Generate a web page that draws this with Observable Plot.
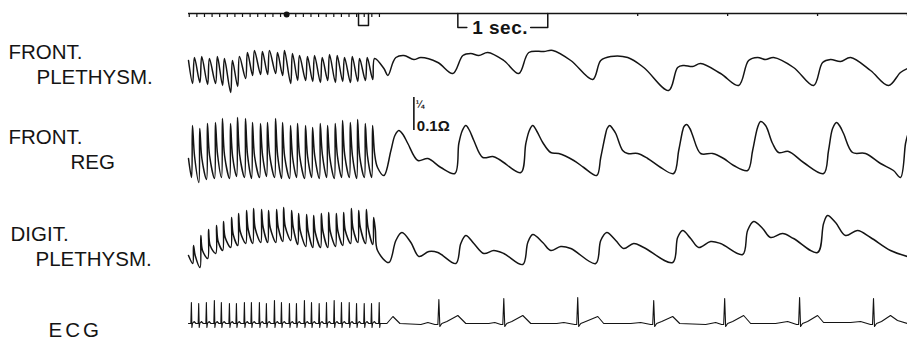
<!DOCTYPE html>
<html>
<head>
<meta charset="utf-8">
<script src="https://cdn.jsdelivr.net/npm/d3@7"></script>
<script src="https://cdn.jsdelivr.net/npm/@observablehq/plot@0.6"></script>
<style>
  html, body { margin: 0; padding: 0; background: #fff; }
  #chart svg { display: block; }
</style>
</head>
<body>
<div id="chart"></div>
<script>
// ---------- time axis (seconds; slow paper speed before the switch, fast after) ----------
const START = -26.1, SWITCH = -0.86, END = 5.0;
const slowSecondTicks = [-26,-25,-24,-23,-22,-21,-20,-19,-18,-17,-16,-15,-14,-13,-12,-11,-10,-9,-8,-7,-6,-5,-4,-3,-2,-1];
const fastSecondTicks = [2, 3, 4, 5];
const oneSecBracket = [0, 1];
const eventMarker = [-3.75, -2.44];
const timeDot = -13.2;

// R-wave times during the slow-speed section (s)
const beatTimes = [-25.72,-24.76,-23.75,-22.70,-21.78,-20.72,-19.80,-18.75,-17.83,-16.78,-15.86,-14.80,-13.88,-12.83,-11.91,-10.86,-9.93,-8.92,-7.96,-6.95,-5.99,-4.97,-4.01,-3.00,-2.04,-1.03];

// ---------- channel baselines (depth on the record) ----------
const channelZero = { fp: 80, reg: 170, dp: 255, ecg: 323 };
const timeLineDepth = 13;

// ---------- FRONT. PLETHYSM. ----------
const fpTrough = [-3,-2,-4,-3,-5,-12,-6,2,5,6,6,7,5,-3,0,0,-1,-2,0,-2,-1,-2,-1,0,1];
const fpPeak   = [23,24,22,24,22,20,24,28,30,29,30,28,30,27,25,24,25,23,26,25,23,24,22,23,22];
const fpSlow = [[-0.822,12],[-0.778,5],[-0.722,18],[-0.689,23],[-0.600,25],[-0.489,21],[-0.411,23],[-0.222,18],[-0.056,7],
  [0.056,25],[0.144,27],[0.233,25],[0.333,28],[0.511,20],[0.678,7],[0.789,28],[0.956,29],[1.056,30],[1.256,20],[1.500,1],
  [1.589,20],[1.700,24],[1.889,23],[2.067,13],[2.344,-10],[2.444,13],[2.511,15],[2.611,14],[2.700,17],[2.922,7],[3.122,-5],
  [3.233,20],[3.333,23],[3.422,21],[3.511,23],[3.733,13],[3.956,-5],[4.056,18],[4.144,21],[4.256,19],[4.367,23],[4.589,10],
  [4.789,-5],[4.922,8],[5.000,12]];

// ---------- FRONT. REG ----------
const regBottom = [-7,-12,-9,-8,-7,-8,-6,-7,-8,-7,-6,-7,-8,-8,-7,-8,-7,-8,-7,-8,-7,-7,-8,-7,-7];
const regTop    = [45,42,47,48,52,47,53,52,48,47,48,52,48,45,47,45,43,47,45,47,50,48,51,47,45];
const regNotch  = [14,12,15,16,15,14,16,15,14,15,16,15,14,13,15,14,15,16,14,15,16,15,14,15,16];
const regSlow = [[-1.25,3],[-0.822,-5],[-0.744,20],[-0.700,35],[-0.656,40],[-0.610,36],[-0.556,27],[-0.444,10],[-0.333,12],[-0.189,3],[-0.033,-3],
  [0.011,27],[0.050,40],[0.089,45],[0.130,40],[0.178,30],[0.278,13],[0.389,14],[0.478,10],[0.700,-2],[0.756,27],[0.795,40],[0.833,45],[0.880,39],[0.944,28],[1.033,18],
  [1.122,17],[1.289,10],[1.400,3],[1.544,-5],[1.589,13],[1.644,37],[1.660,42],[1.689,45],[1.720,42],[1.756,37],[1.833,20],[1.889,17],[2.000,17],
  [2.111,12],[2.256,3],[2.400,-3],[2.456,20],[2.500,40],[2.515,44],[2.544,46],[2.580,42],[2.611,35],[2.700,17],[2.833,17],[2.956,12],[3.067,5],
  [3.222,0],[3.278,20],[3.333,43],[3.367,49],[3.422,45],[3.500,27],[3.567,18],[3.678,19],[3.844,8],[4.067,-3],[4.122,20],
  [4.167,42],[4.211,48],[4.250,44],[4.289,37],[4.389,18],[4.533,17],[4.700,7],[4.844,0],[4.922,-7],[4.978,27],[5.000,35]];

// ---------- DIGIT. PLETHYSM. ----------
const dpBottom = [-8,-12,-3,2,5,8,10,12,12,13,13,13,14,15,11,9,8,8,8,9,10,12,13,12,11];
const dpTop    = [10,20,26,30,34,38,42,45,47,46,45,46,48,45,42,41,40,42,43,42,43,47,45,46,38];
const dpNotch  = [0,5,10,14,18,21,24,26,27,28,28,28,29,28,25,24,23,24,24,24,25,27,28,28,26];
const dpSlow = [[-1.25,5],[-0.767,-7],[-0.689,15],[-0.622,23],[-0.522,13],[-0.433,-1],[-0.322,4],[-0.222,3],[-0.022,-8],
  [0.033,12],[0.089,20],[0.178,12],[0.289,2],[0.400,5],[0.511,2],[0.722,-9],[0.778,13],[0.833,21],[0.944,13],[1.033,5],
  [1.144,9],[1.256,7],[1.533,-8],[1.589,15],[1.656,23],[1.756,15],[1.844,7],[1.956,12],[2.067,8],[2.389,-7],[2.444,18],
  [2.500,25],[2.589,17],[2.678,8],[2.811,14],[2.922,12],[3.167,1],[3.222,25],[3.289,34],[3.389,27],[3.478,18],[3.611,22],
  [3.733,17],[4.000,3],[4.067,32],[4.111,40],[4.200,33],[4.311,20],[4.444,25],[4.589,18],[4.811,5],[5.000,-1]];

// ---------- ECG ----------
const ecgR = [21,20,21,23,21,20,20,21,21,21,20,23,21,20,20,23,21,20,21,23,21,21,20,20,20,21];
const ecgS = -4, ecgT = 2;
const ecgSlow = [[-0.844,0],[-0.789,0],[-0.722,7],[-0.644,0],[-0.411,-1],[-0.333,1],[-0.256,-1],[-0.222,-1],[-0.211,24],[-0.200,-3],
  [-0.178,0],[-0.122,2],[0.000,8],[0.089,0],[0.344,0],[0.411,1],[0.478,-1],[0.500,-1],[0.511,25],[0.522,-3],[0.544,0],[0.600,2],
  [0.722,8],[0.811,0],[1.100,0],[1.178,1],[1.300,-1],[1.322,-1],[1.333,26],[1.344,-3],[1.367,0],[1.422,2],[1.556,7],[1.622,0],
  [1.922,0],[2.033,1],[2.144,-1],[2.167,-1],[2.178,23],[2.189,-3],[2.211,0],[2.267,2],[2.389,7],[2.467,0],[2.756,-1],[2.867,1],
  [2.933,-1],[2.956,-1],[2.967,25],[2.978,-3],[3.000,0],[3.056,2],[3.178,8],[3.256,0],[3.533,0],[3.667,2],[3.767,-1],[3.789,-1],
  [3.800,26],[3.811,-3],[3.833,0],[3.889,2],[4.000,8],[4.067,1],[4.367,1],[4.478,2],[4.589,-1],[4.611,-1],[4.622,25],[4.633,-3],
  [4.656,0],[4.711,2],[4.811,8],[4.889,3],[5.000,0]];

// ---------- labels ----------
const labels = [
  { text: "FRONT.",    indent: 8,  base: 58 },
  { text: "PLETHYSM.", indent: 36, base: 83 },
  { text: "FRONT.",    indent: 8,  base: 143 },
  { text: "REG",       indent: 70, base: 168 },
  { text: "DIGIT.",    indent: 10, base: 240 },
  { text: "PLETHYSM.", indent: 35, base: 265 },
  { text: "ECG",       indent: 48, base: 336 }
];
const calibT = -0.489, calibSpan = [97, 130];

// ---------- build series ----------
function fastSeries(startV, phases, n) {
  const pts = [{ t: START, v: startV }];
  for (let i = 0; i < n; i++) {
    for (const [off, val] of phases) {
      pts.push({ t: beatTimes[i] + off, v: typeof val === "number" ? val : val[i] });
    }
  }
  return pts.filter(p => p.t < SWITCH);
}
const toPts = arr => arr.map(([t, v]) => ({ t, v }));

const fpData  = fastSeries(20, [[0.16, fpTrough], [0.40, fpPeak]], fpPeak.length).concat(toPts(fpSlow));
const regData = fastSeries(12, [[0.02, regBottom], [0.14, regTop], [0.42, regNotch]], regTop.length).concat(toPts(regSlow));
const dpData  = fastSeries(0,  [[0.18, dpBottom], [0.28, dpTop], [0.50, dpNotch]], dpTop.length).concat(toPts(dpSlow));
const ecgData = fastSeries(0,  [[-0.07, 0], [0, ecgR], [0.07, ecgS], [0.14, 0], [0.35, ecgT], [0.6, 0]], ecgR.length).concat(toPts(ecgSlow));

const ink = "#141414";
const bracketDepth = 27;
const bracket = [
  [{ t: oneSecBracket[0], d: timeLineDepth }, { t: oneSecBracket[0], d: bracketDepth }, { t: 0.10, d: bracketDepth }],
  [{ t: 0.81, d: bracketDepth }, { t: oneSecBracket[1], d: bracketDepth }, { t: oneSecBracket[1], d: timeLineDepth }]
];
const marker = [
  { t: eventMarker[0], d: timeLineDepth }, { t: eventMarker[0], d: 25 },
  { t: eventMarker[1], d: 25 }, { t: eventMarker[1], d: timeLineDepth }
];

const traceLine = (data, zero, opts = {}) =>
  Plot.line(data, { x: "t", y: d => zero - d.v, stroke: ink, strokeWidth: 1.5, curve: "catmull-rom", ...opts });

const chart = Plot.plot({
  width: 907,
  height: 349,
  margin: 0,
  style: { fontFamily: "'Liberation Sans', Arial, sans-serif", background: "#fff", overflow: "visible" },
  x: { type: "linear", domain: [START, SWITCH, END], range: [188, 380, 907], axis: null },
  y: { type: "linear", domain: [0, 349], range: [0, 349], axis: null },
  marks: [
    // time marker line
    Plot.ruleY([timeLineDepth], { x1: START, x2: END, stroke: ink, strokeWidth: 1.6 }),
    Plot.ruleX(slowSecondTicks, { y1: timeLineDepth, y2: timeLineDepth + 4, stroke: ink, strokeWidth: 1.2 }),
    Plot.ruleX(fastSecondTicks, { y1: timeLineDepth, y2: timeLineDepth + 3, stroke: ink, strokeWidth: 1.3 }),
    Plot.dot([timeDot], { x: d => d, y: timeLineDepth + 1, r: 3, fill: ink, stroke: "none" }),
    Plot.line(marker, { x: "t", y: "d", stroke: ink, strokeWidth: 1.5 }),
    ...bracket.map(b => Plot.line(b, { x: "t", y: "d", stroke: ink, strokeWidth: 1.5 })),
    Plot.text(["1 sec."], { x: 0.47, y: bracketDepth, text: d => d, fontSize: 19, fontWeight: "bold", fill: ink, textAnchor: "middle", lineAnchor: "middle" }),

    // calibration mark
    Plot.ruleX([calibT], { y1: calibSpan[0], y2: calibSpan[1], stroke: ink, strokeWidth: 1.6 }),
    Plot.text(["¼"], { x: calibT, y: calibSpan[0] + 7, text: d => d, dx: 2, fontSize: 10, fontWeight: "bold", fill: ink, textAnchor: "start" }),
    Plot.text(["0.1Ω"], { x: calibT, y: calibSpan[1], text: d => d, dx: 3, fontSize: 15, fontWeight: "bold", fill: ink, textAnchor: "start", lineAnchor: "bottom" }),

    // traces
    traceLine(fpData, channelZero.fp),
    traceLine(regData, channelZero.reg),
    traceLine(dpData, channelZero.dp),
    traceLine(ecgData, channelZero.ecg, { curve: "linear", strokeWidth: 1.1 }),

    // channel labels
    ...labels.map(l => Plot.text([l], {
      frameAnchor: "left", y: "base", text: "text", dx: l.indent,
      fontSize: 20.5, fill: ink, textAnchor: "start", lineAnchor: "bottom"
    }))
  ]
});

document.getElementById("chart").appendChild(chart);
d3.select(chart).selectAll("text").filter(function () { return this.textContent === "ECG"; })
  .attr("letter-spacing", "3px");
d3.select(chart).selectAll("text").filter(function () { return this.textContent === "1 sec."; })
  .attr("letter-spacing", "0.5px");
</script>
</body>
</html>
